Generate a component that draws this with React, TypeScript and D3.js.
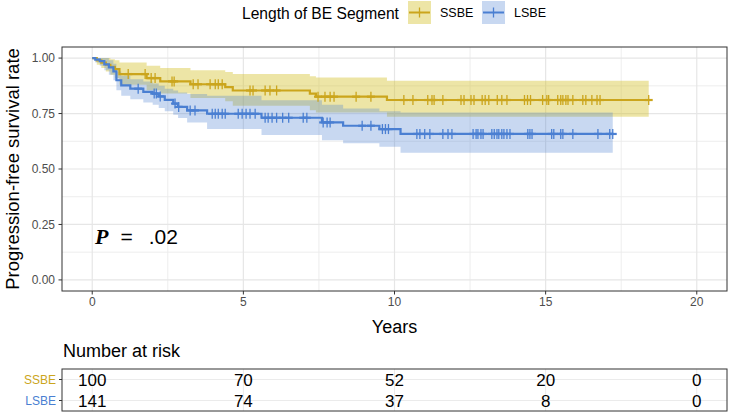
import React from "react";
import * as d3 from "d3";

// ---------- data ----------
const groups = ["SSBE", "LSBE"];
const lineColors = ["#CBA51C", "#4A7FD2"];
const bandColors = ["#D4C22A", "#4A7FD2"];
const bandOpacity = [0.42, 0.3];

const ssbeTimes = [0, 0.15, 0.3, 0.45, 0.6, 0.75, 0.9, 1.8, 2.25, 3.25, 4.4, 4.65, 7.2, 7.4, 9.75];
const ssbeSurv = [1, 0.99, 0.98, 0.97, 0.96, 0.95, 0.928, 0.91, 0.895, 0.882, 0.869, 0.854, 0.84, 0.826, 0.811];
const ssbeUpper = [1, 1, 1, 1, 0.995, 0.99, 0.98, 0.965, 0.955, 0.945, 0.937, 0.928, 0.918, 0.912, 0.898];
const ssbeLower = [1, 0.97, 0.955, 0.94, 0.925, 0.91, 0.88, 0.855, 0.84, 0.82, 0.805, 0.785, 0.765, 0.755, 0.736];
const ssbeEnd = 18.41;
const ssbeCensor = [1.19, 1.75, 1.95, 2.08, 2.64, 2.71, 3.34, 3.5, 3.9, 4.07, 4.17, 4.3, 5.22, 5.32, 5.72, 5.88, 6.1,
  7.47, 7.7, 7.87, 8.0, 8.73, 9.22, 10.31, 10.61, 11.1, 11.24, 11.31, 11.6, 12.2, 12.3, 12.53, 12.63, 12.9, 13.0,
  13.12, 13.4, 13.55, 13.72, 14.3, 14.4, 14.5, 14.9, 15.04, 15.1, 15.4, 15.5, 15.57, 15.67, 15.74, 15.9, 16.23,
  16.33, 16.53, 16.7, 16.8, 18.41];

const lsbeTimes = [0, 0.1, 0.25, 0.4, 0.55, 0.7, 0.8, 0.96, 1.26, 1.69, 2.0, 2.2, 2.4, 2.68, 2.84, 3.14, 3.8, 5.6, 7.6, 8.3, 9.5, 10.2];
const lsbeSurv = [1, 0.993, 0.986, 0.972, 0.958, 0.94, 0.9, 0.877, 0.862, 0.848, 0.84, 0.827, 0.812, 0.795, 0.78, 0.764, 0.749, 0.731, 0.71, 0.695, 0.68, 0.658];
const lsbeUpper = [1, 1, 1, 1, 0.99, 0.975, 0.94, 0.92, 0.905, 0.895, 0.885, 0.875, 0.862, 0.854, 0.845, 0.838, 0.83, 0.81, 0.79, 0.773, 0.76, 0.755];
const lsbeLower = [1, 0.98, 0.965, 0.945, 0.925, 0.9, 0.855, 0.83, 0.815, 0.8, 0.79, 0.775, 0.76, 0.745, 0.73, 0.71, 0.68, 0.653, 0.63, 0.616, 0.6, 0.573];
const lsbeEnd = 17.22;
const lsbeCensor = [1.52, 2.05, 2.12, 2.25, 2.74, 2.86, 3.24, 3.4, 3.97, 4.07, 4.17, 4.3, 4.4, 4.83, 4.96, 5.09, 5.22,
  5.39, 5.72, 5.82, 5.95, 6.1, 6.3, 6.5, 6.98, 7.1, 7.64, 7.77, 7.87, 8.93, 9.22, 9.6, 9.7, 9.8, 10.74, 10.84, 11.0,
  11.17, 11.6, 11.77, 11.9, 12.6, 12.7, 12.76, 12.86, 12.93, 13.22, 13.3, 13.39, 13.45, 13.55, 13.62, 13.72, 13.82,
  14.41, 14.48, 14.55, 15.2, 15.27, 15.5, 15.57, 15.9, 16.73, 17.12, 17.22];

const xTicks = [0, 5, 10, 15, 20];
const xMinor = [2.5, 7.5, 12.5, 17.5];
const yTicks = [0, 0.25, 0.5, 0.75, 1];
const yMinor = [0.125, 0.375, 0.625, 0.875];
const riskSSBE = [100, 70, 52, 20, 0];
const riskLSBE = [141, 74, 37, 8, 0];
const pText = ".02";

// ---------- layout ----------
const W = 730, H = 413;
const PL = 62, PR = 727, PT = 47, PB = 291;
const TT = 369, TB = 411;
const FONT = "'Liberation Sans', Arial, Helvetica, sans-serif";

type Curve = { times: number[]; surv: number[]; upper: number[]; lower: number[]; end: number; censor: number[]; color: string; band: string; op: number };

const curves: Curve[] = [
  { times: ssbeTimes, surv: ssbeSurv, upper: ssbeUpper, lower: ssbeLower, end: ssbeEnd, censor: ssbeCensor, color: lineColors[0], band: bandColors[0], op: bandOpacity[0] },
  { times: lsbeTimes, surv: lsbeSurv, upper: lsbeUpper, lower: lsbeLower, end: lsbeEnd, censor: lsbeCensor, color: lineColors[1], band: bandColors[1], op: bandOpacity[1] },
];

export default function App() {
  const x = d3.scaleLinear().domain([-1, 21]).range([PL, PR]);
  const y = d3.scaleLinear().domain([-0.05, 1.05]).range([PB, PT]);
  const rowY = d3.scaleBand().domain(groups).range([TT, TB]).padding(0);

  const stepAt = (c: Curve, t: number) => {
    const i = d3.bisectRight(c.times, t) - 1;
    return c.surv[Math.max(0, i)];
  };

  const pts = (c: Curve) => {
    const arr = c.times.map((t, i) => ({ t, s: c.surv[i], u: c.upper[i], l: c.lower[i] }));
    const last = arr[arr.length - 1];
    arr.push({ t: c.end, s: last.s, u: last.u, l: last.l });
    return arr;
  };

  const line = d3.line<{ t: number; s: number }>().x((d) => x(d.t)).y((d) => y(d.s)).curve(d3.curveStepAfter);
  const area = d3
    .area<{ t: number; u: number; l: number }>()
    .x((d) => x(d.t))
    .y0((d) => y(d.l))
    .y1((d) => y(d.u))
    .curve(d3.curveStepAfter);

  return (
    <svg width={W} height={H} style={{ position: "absolute", left: 0, top: 0, background: "#fff" }} fontFamily={FONT}>
      {/* legend */}
      <text x={242} y={18.5} fontSize={15.6} fill="#000">Length of BE Segment</text>
      {groups.map((g, i) => {
        const kx = i === 0 ? 408 : 482;
        return (
          <g key={g}>
            <rect x={kx} y={1} width={23} height={23} fill={bandColors[i]} fillOpacity={bandOpacity[i]} />
            <line x1={kx + 1} x2={kx + 22} y1={12.5} y2={12.5} stroke={lineColors[i]} strokeWidth={2} />
            <line x1={kx + 11.5} x2={kx + 11.5} y1={7.5} y2={17.5} stroke={lineColors[i]} strokeWidth={1.3} />
            <text x={kx + 32} y={17} fontSize={12.5} fill="#000">{g}</text>
          </g>
        );
      })}

      {/* panel grid */}
      <rect x={PL} y={PT} width={PR - PL} height={PB - PT} fill="#fff" />
      {xMinor.map((t) => (
        <line key={"xm" + t} x1={x(t)} x2={x(t)} y1={PT} y2={PB} stroke="#EBEBEB" strokeWidth={0.9} />
      ))}
      {yMinor.map((t) => (
        <line key={"ym" + t} x1={PL} x2={PR} y1={y(t)} y2={y(t)} stroke="#EBEBEB" strokeWidth={0.9} />
      ))}
      {xTicks.map((t) => (
        <line key={"xg" + t} x1={x(t)} x2={x(t)} y1={PT} y2={PB} stroke="#E6E6E6" strokeWidth={1.2} />
      ))}
      {yTicks.map((t) => (
        <line key={"yg" + t} x1={PL} x2={PR} y1={y(t)} y2={y(t)} stroke="#E6E6E6" strokeWidth={1.2} />
      ))}

      {/* bands */}
      {curves.map((c, i) => (
        <path key={"band" + i} d={area(pts(c)) || ""} fill={c.band} fillOpacity={c.op} stroke="none" />
      ))}
      {/* lines */}
      {curves.map((c, i) => (
        <path key={"line" + i} d={line(pts(c)) || ""} fill="none" stroke={c.color} strokeWidth={2.2} />
      ))}
      {/* censor marks */}
      {curves.map((c, i) => (
        <g key={"cens" + i} stroke={c.color}>
          {c.censor.map((t, j) => {
            const cx = x(t), cy = y(stepAt(c, t));
            return (
              <g key={j}>
                <line x1={cx} x2={cx} y1={cy - 5} y2={cy + 5} strokeWidth={1.3} />
                <line x1={cx - 4} x2={cx + 4} y1={cy} y2={cy} strokeWidth={2.2} />
              </g>
            );
          })}
        </g>
      ))}

      {/* P value */}
      <text x={95} y={244} fontSize={21} fill="#000">
        <tspan fontFamily="'Liberation Serif', 'DejaVu Serif', serif" fontStyle="italic" fontWeight="bold" fontSize={22}>P</tspan>
        <tspan dx={12}>=</tspan>
        <tspan dx={16}>{pText}</tspan>
      </text>

      {/* panel border */}
      <rect x={PL} y={PT} width={PR - PL} height={PB - PT} fill="none" stroke="#333" strokeWidth={1} />

      {/* axes ticks & labels */}
      {xTicks.map((t) => (
        <g key={"xt" + t}>
          <line x1={x(t)} x2={x(t)} y1={PB} y2={PB + 3.5} stroke="#333" strokeWidth={1} />
          <text x={x(t)} y={PB + 15} fontSize={12} fill="#4D4D4D" textAnchor="middle">{t}</text>
        </g>
      ))}
      {yTicks.map((t) => (
        <g key={"yt" + t}>
          <line x1={PL - 3.5} x2={PL} y1={y(t)} y2={y(t)} stroke="#333" strokeWidth={1} />
          <text x={PL - 7} y={y(t) + 4.2} fontSize={12} fill="#4D4D4D" textAnchor="end">{d3.format(".2f")(t)}</text>
        </g>
      ))}
      <text x={x(10)} y={333} fontSize={18} fill="#000" textAnchor="middle">Years</text>
      <text transform={`translate(19,${(PT + PB) / 2}) rotate(-90)`} fontSize={18.5} fill="#000" textAnchor="middle">
        Progression-free survival rate
      </text>

      {/* risk table */}
      <text x={63} y={357} fontSize={18} fill="#000">Number at risk</text>
      <rect x={PL} y={TT} width={PR - PL} height={TB - TT} fill="#fff" />
      {xTicks.map((t) => (
        <line key={"tg" + t} x1={x(t)} x2={x(t)} y1={TT} y2={TB} stroke="#EBEBEB" strokeWidth={1} />
      ))}
      {groups.map((g) => (
        <line key={"tr" + g} x1={PL} x2={PR} y1={(rowY(g) || 0) + rowY.bandwidth() / 2} y2={(rowY(g) || 0) + rowY.bandwidth() / 2} stroke="#EBEBEB" strokeWidth={1} />
      ))}
      <rect x={PL} y={TT} width={PR - PL} height={TB - TT} fill="none" stroke="#333" strokeWidth={1} />
      {groups.map((g, gi) => {
        const vals = gi === 0 ? riskSSBE : riskLSBE;
        const cy = (rowY(g) || 0) + rowY.bandwidth() / 2;
        return (
          <g key={"row" + g}>
            <line x1={PL - 3} x2={PL} y1={cy} y2={cy} stroke="#333" strokeWidth={1} />
            <text x={PL - 6} y={cy + 4} fontSize={12} fill={lineColors[gi]} textAnchor="end">{g}</text>
            {vals.map((v, j) => (
              <text key={j} x={x(xTicks[j])} y={cy + 6} fontSize={17} fill="#000" textAnchor="middle">{v}</text>
            ))}
          </g>
        );
      })}
    </svg>
  );
}
